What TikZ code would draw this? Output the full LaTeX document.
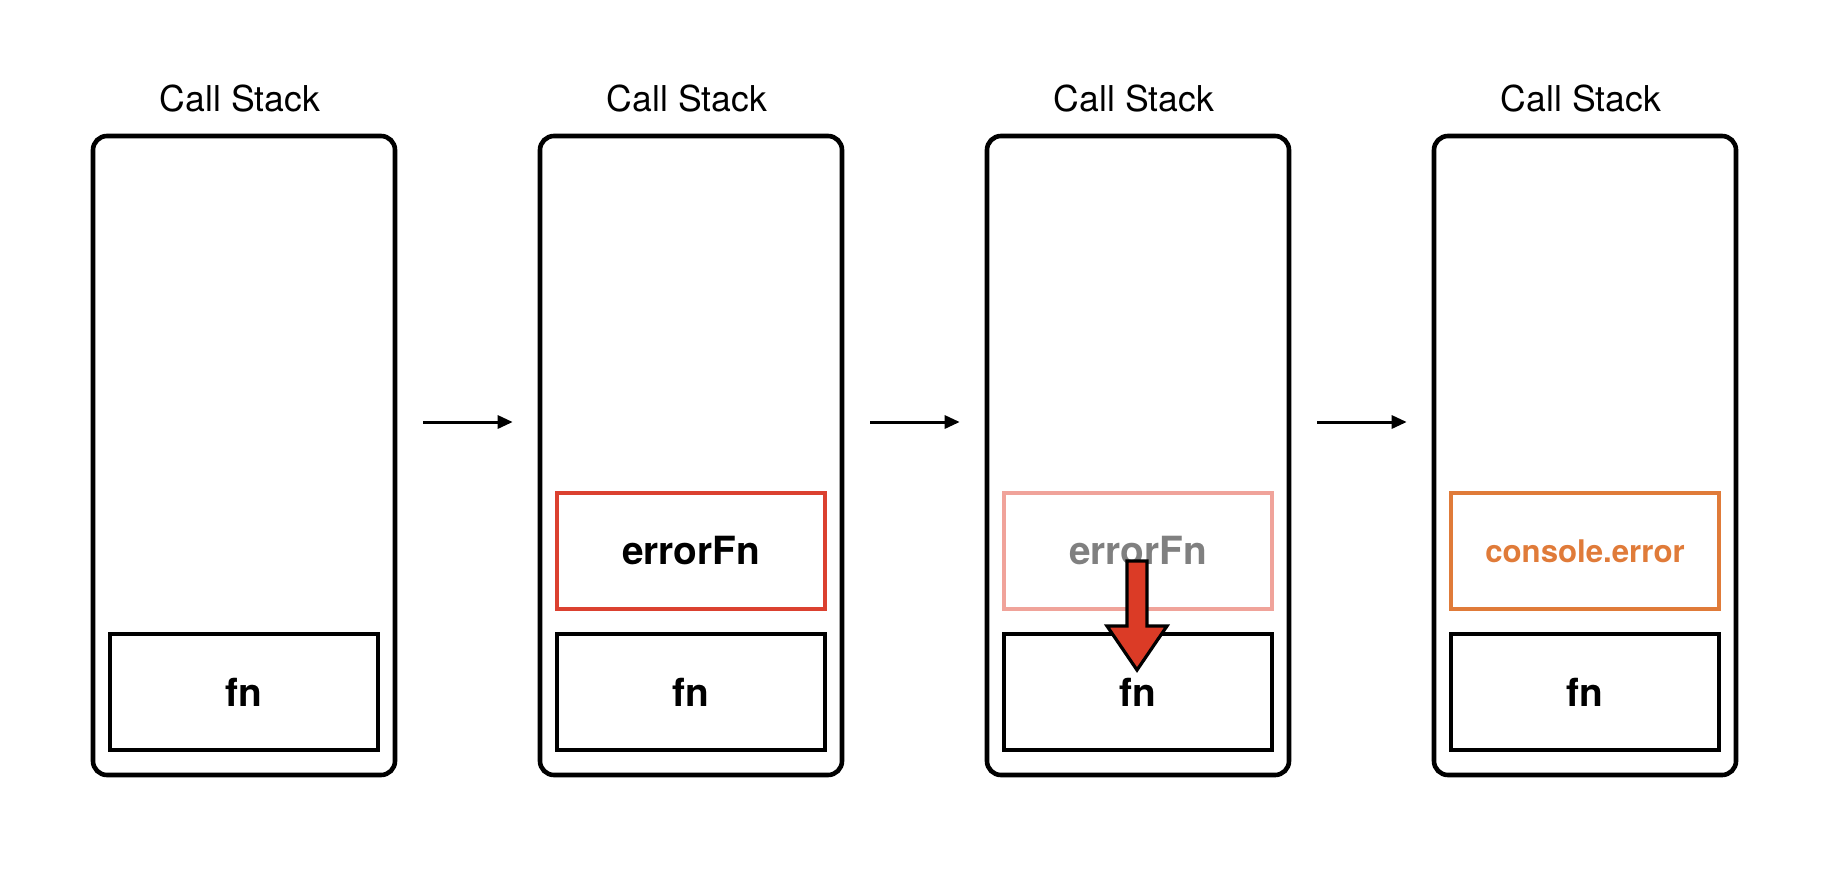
\documentclass[tikz,border=0pt]{standalone}
\usepackage{fontspec}
\setmainfont{TeX Gyre Heros}
\usetikzlibrary{arrows.meta,calc}
\definecolor{errred}{HTML}{DB4130}
\definecolor{fadered}{HTML}{F0A39A}
\definecolor{fadegray}{HTML}{808080}
\definecolor{conorange}{HTML}{E07B39}
\definecolor{arrowred}{HTML}{DB3B26}
\tikzset{
  panel/.style={draw=black,line width=2.3pt,rounded corners=7pt,minimum width=151pt,minimum height=319.5pt,inner sep=0pt},
  frame/.style={draw,line width=2.3pt,minimum width=134pt,minimum height=58pt,inner sep=0pt,font=\fontsize{19.4}{22}\selectfont\bfseries},
  title/.style={font=\fontsize{17.8}{20}\selectfont},
  conn/.style={line width=1.5pt,-{Triangle[length=7.5pt,width=6.5pt]}},
}
\begin{document}
\begin{tikzpicture}[x=0.5pt,y=-0.5pt]
\useasboundingbox (0,0) rectangle (1838,874);
% panels
\foreach \i/\cx in {1/244,2/691,3/1138,4/1585}{
  \node[panel] (p\i) at (\cx,455.5) {};
  \node[title] (t\i) at ($(\cx,98.5)+(-4,0)$) {Call Stack};
}
% bottom fn frames
\node[frame] (fn1) at (244,692) {fn};
\node[frame] (fn2) at (691,692) {fn};
\node[frame] (fn3) at (1138,692) {fn};
\node[frame] (fn4) at (1585,692) {fn};
% top frames
\node[frame,draw=errred] (er2) at (691,551) {errorFn};
\node[frame,draw=fadered,text=fadegray] (er3) at (1138,551) {errorFn};
\node[frame,draw=conorange,text=conorange,font=\fontsize{15.6}{18}\selectfont\bfseries] (ce4) at (1585,551) {console.error};
% connectors
\draw[conn] ([xshift=13pt]p1.east |- 0,422) -- ([xshift=-12.5pt]p2.west |- 0,422);
\draw[conn] ([xshift=13pt]p2.east |- 0,422) -- ([xshift=-12.5pt]p3.west |- 0,422);
\draw[conn] ([xshift=13pt]p3.east |- 0,422) -- ([xshift=-12.5pt]p4.west |- 0,422);
% red drop arrow
\draw[line width=1.6pt,fill=arrowred,line join=miter]
  (1127,561) -- (1147,561) -- (1147,626) -- (1167,626) -- (1137,670)
  -- (1107,626) -- (1127,626) -- cycle;
\end{tikzpicture}
\end{document}
